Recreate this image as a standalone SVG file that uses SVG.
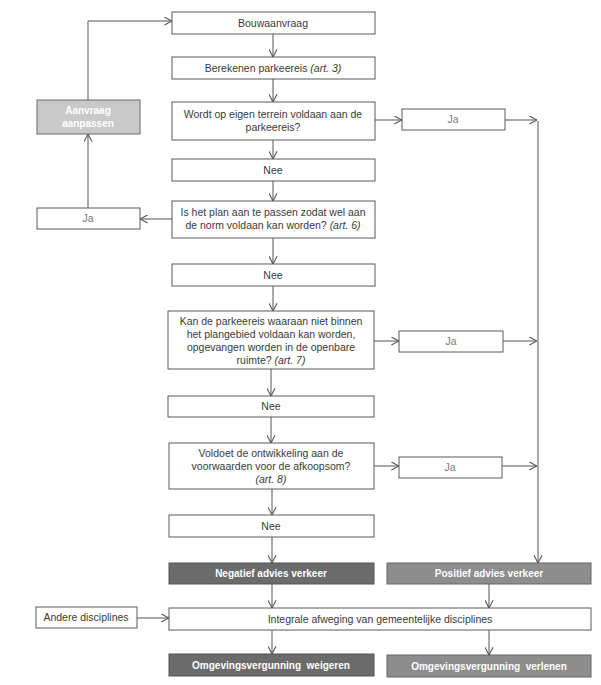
<svg xmlns="http://www.w3.org/2000/svg" width="601" height="685" viewBox="0 0 601 685">
<defs>
<style>
.box{fill:#ffffff;stroke:#5a5a5a;stroke-width:1}
.lg{fill:#c9c9c9;stroke:#6a6a6a;stroke-width:1}
.dk{fill:#6b6b6b;stroke:#555;stroke-width:1}
.md{fill:#8d8d8d;stroke:#666;stroke-width:1}
text{font-family:"Liberation Sans",Arial,sans-serif;font-size:10.5px;fill:#3a3a3a;text-anchor:middle}
.ja{fill:#7a7a7a}
.wt{fill:#ffffff;font-weight:bold;font-size:10px;white-space:pre}
.it{font-style:italic}
.conn line,.conn polyline{stroke:#555;stroke-width:1;fill:none}
</style>
<marker id="ah" viewBox="0 0 10 10" refX="9.5" refY="5" markerWidth="9" markerHeight="9" markerUnits="userSpaceOnUse" orient="auto">
<path d="M1,0.5 L9.5,5 L1,9.5" fill="none" stroke="#555" stroke-width="1.2"/>
</marker>
</defs>
<rect width="601" height="685" fill="#ffffff"/>

<g id="bouwaanvraag"><rect class="box" x="172" y="12" width="203" height="22"/><text x="273" y="27">Bouwaanvraag</text></g>
<g id="berekenen"><rect class="box" x="172" y="57" width="203" height="22"/><text x="273" y="72">Berekenen parkeereis <tspan class="it">(art. 3)</tspan></text></g>
<g id="wordt"><rect class="box" x="172" y="102" width="203" height="38"/><text x="273" y="118">Wordt op eigen terrein voldaan aan de</text><text x="273" y="131">parkeereis?</text></g>
<g id="ja1"><rect class="box" x="402" y="109" width="103" height="21"/><text class="ja" x="453" y="123">Ja</text></g>
<g id="aanvraag"><rect class="lg" x="37" y="100" width="103" height="34"/><text class="wt" x="88" y="114">Aanvraag</text><text class="wt" x="88" y="127">aanpassen</text></g>
<g id="nee1"><rect class="box" x="172" y="159" width="203" height="22"/><text x="273" y="174">Nee</text></g>
<g id="plan"><rect class="box" x="172" y="201" width="203" height="37"/><text x="273" y="216">Is het plan aan te passen zodat wel aan</text><text x="273" y="229">de norm voldaan kan worden? <tspan class="it">(art. 6)</tspan></text></g>
<g id="ja-left"><rect class="box" x="37" y="208" width="103" height="21"/><text class="ja" x="88" y="222">Ja</text></g>
<g id="nee2"><rect class="box" x="172" y="264" width="203" height="22"/><text x="273" y="279">Nee</text></g>
<g id="kan"><rect class="box" x="168" y="311" width="206" height="58"/><text x="271" y="325">Kan de parkeereis waaraan niet binnen</text><text x="271" y="338">het plangebied voldaan kan worden,</text><text x="271" y="351">opgevangen worden in de openbare</text><text x="271" y="364">ruimte? <tspan class="it">(art. 7)</tspan></text></g>
<g id="ja2"><rect class="box" x="399" y="331" width="104" height="21"/><text class="ja" x="451" y="345">Ja</text></g>
<g id="nee3"><rect class="box" x="168" y="396" width="206" height="21"/><text x="271" y="410">Nee</text></g>
<g id="voldoet"><rect class="box" x="169" y="443" width="205" height="46"/><text x="271" y="457">Voldoet de ontwikkeling aan de</text><text x="271" y="470">voorwaarden voor de afkoopsom?</text><text class="it" x="271" y="483">(art. 8)</text></g>
<g id="ja3"><rect class="box" x="399" y="457" width="103" height="21"/><text class="ja" x="450" y="471">Ja</text></g>
<g id="nee4"><rect class="box" x="169" y="515" width="205" height="22"/><text x="271" y="530">Nee</text></g>
<g id="negatief"><rect class="dk" x="169" y="563" width="205" height="21"/><text class="wt" x="271" y="577">Negatief advies verkeer</text></g>
<g id="positief"><rect class="md" x="387" y="563" width="204" height="21"/><text class="wt" x="489" y="577">Positief advies verkeer</text></g>
<g id="andere"><rect class="box" x="36" y="607" width="101" height="21"/><text x="86" y="621">Andere disciplines</text></g>
<g id="integrale"><rect class="box" x="169" y="608" width="422" height="22"/><text x="380" y="623">Integrale afweging van gemeentelijke disciplines</text></g>
<g id="weigeren"><rect class="dk" x="169" y="654" width="205" height="22"/><text class="wt" x="271" y="669" xml:space="preserve">Omgevingsvergunning  weigeren</text></g>
<g id="verlenen"><rect class="md" x="387" y="655" width="204" height="22"/><text class="wt" x="489" y="670" xml:space="preserve">Omgevingsvergunning  verlenen</text></g>

<g id="connectors" class="conn">
<line x1="273" y1="34" x2="273" y2="57" marker-end="url(#ah)"/>
<line x1="273" y1="79" x2="273" y2="102" marker-end="url(#ah)"/>
<line x1="273" y1="140" x2="273" y2="159" marker-end="url(#ah)"/>
<line x1="273" y1="181" x2="273" y2="201" marker-end="url(#ah)"/>
<line x1="273" y1="238" x2="273" y2="264" marker-end="url(#ah)"/>
<line x1="273" y1="286" x2="273" y2="311" marker-end="url(#ah)"/>
<line x1="271" y1="369" x2="271" y2="396" marker-end="url(#ah)"/>
<line x1="271" y1="417" x2="271" y2="443" marker-end="url(#ah)"/>
<line x1="272" y1="489" x2="272" y2="515" marker-end="url(#ah)"/>
<line x1="272" y1="537" x2="272" y2="563" marker-end="url(#ah)"/>
<line x1="272" y1="584" x2="272" y2="608" marker-end="url(#ah)"/>
<line x1="272" y1="630" x2="272" y2="654" marker-end="url(#ah)"/>
<line x1="489" y1="584" x2="489" y2="608" marker-end="url(#ah)"/>
<line x1="489" y1="630" x2="489" y2="655" marker-end="url(#ah)"/>
<line x1="375" y1="120" x2="402" y2="120" marker-end="url(#ah)"/>
<line x1="505" y1="120" x2="537" y2="120" marker-end="url(#ah)"/>
<line x1="538" y1="121" x2="538" y2="563" marker-end="url(#ah)"/>
<line x1="374" y1="341" x2="399" y2="341" marker-end="url(#ah)"/>
<line x1="503" y1="341" x2="537" y2="341" marker-end="url(#ah)"/>
<line x1="374" y1="466" x2="399" y2="466" marker-end="url(#ah)"/>
<line x1="502" y1="466" x2="537" y2="466" marker-end="url(#ah)"/>
<line x1="172" y1="219" x2="140" y2="219" marker-end="url(#ah)"/>
<line x1="88" y1="208" x2="88" y2="134" marker-end="url(#ah)"/>
<polyline points="88,100 88,21 172,21" marker-end="url(#ah)"/>
<line x1="137" y1="618" x2="169" y2="618" marker-end="url(#ah)"/>
</g>
</svg>
